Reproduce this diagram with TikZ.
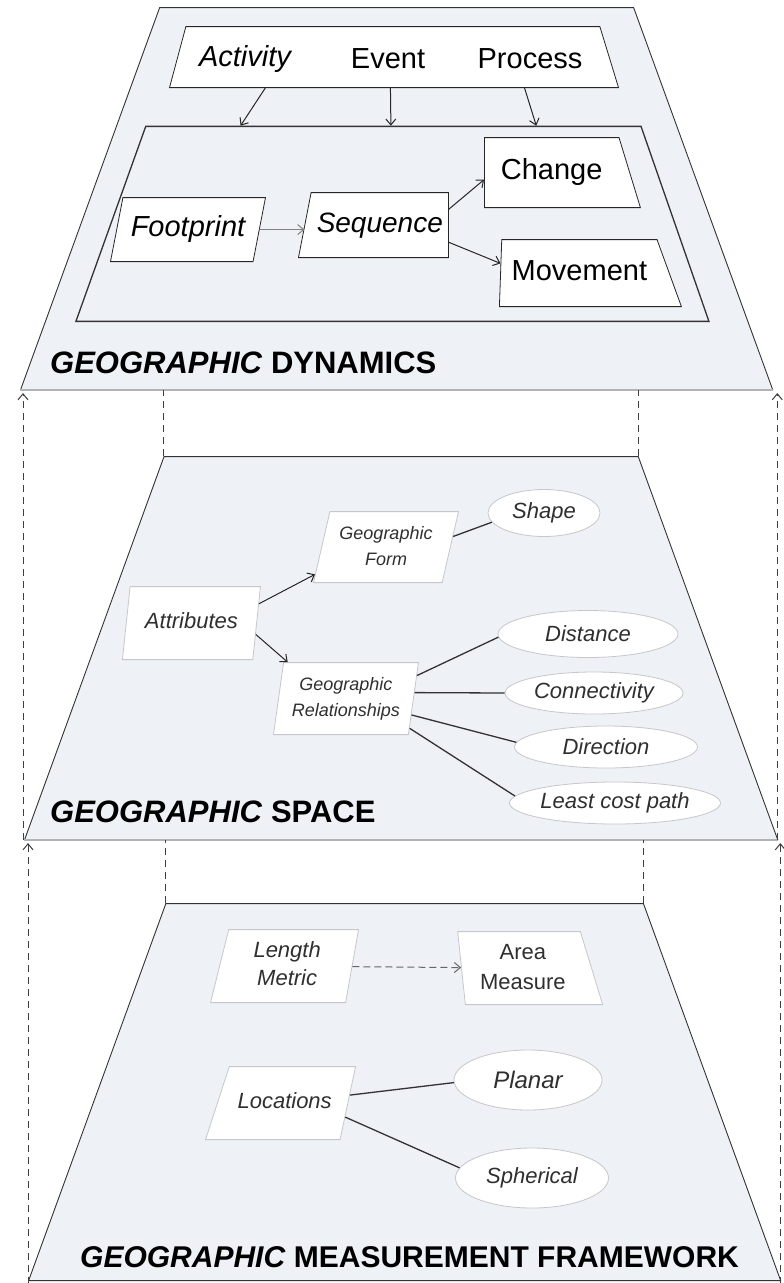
\documentclass[tikz,border=0pt]{standalone}
\usepackage{fontspec}
\setmainfont{Liberation Sans}
\usetikzlibrary{positioning}
\usetikzlibrary{shapes.geometric}
\usetikzlibrary{arrows.meta}
\usetikzlibrary{calc}
\definecolor{levelfill}{HTML}{EEF1F5}
\definecolor{boxline}{HTML}{C4C7CB}
\definecolor{textgray}{HTML}{2F2F2F}

\begin{document}
\begin{tikzpicture}[
    x=1pt, y=-1pt,
    level/.style={trapezium,trapezium left angle=70,trapezium right angle=70,trapezium stretches body=true,anchor=bottom left corner,draw=black!80,fill=levelfill,line width=0.9pt,inner xsep=2pt,text height=0pt,text depth=0pt},
    separator/.style={line width=2.6pt,draw=gray!60},
    guide/.style={draw=black!75,line width=1pt,dash pattern=on 7pt off 5pt},
    title/.style={anchor=west,inner sep=0pt,font=\fontsize{31}{33}\selectfont\bfseries},
    dynbox/.style={trapezium,trapezium stretches body=true,anchor=bottom left corner,draw=black!85,fill=white,line width=0.8pt,inner xsep=2pt,text height=21pt,text depth=7pt,font=\fontsize{29}{32}\selectfont},
    spacebox/.style={trapezium,trapezium stretches body=true,anchor=bottom left corner,draw=boxline,fill=white,line width=0.8pt,inner xsep=2pt,text=textgray,font=\fontsize{22}{28}\selectfont\itshape},
    oneline/.style={text height=16pt,text depth=5pt},
    attrib/.style={ellipse,draw=boxline,fill=white,line width=0.8pt,inner sep=0pt,text=textgray,font=\fontsize{22}{26}\selectfont\itshape},
    arrow/.style={->,>={Straight Barb[length=6pt,width=10pt]},line width=1pt,draw=black!85},
    link/.style={line width=1.3pt,draw=black!80}
]
\useasboundingbox (0,0) rectangle (784,1283);

% three levels
\node[level,minimum width=752pt,inner ysep=191pt] (dyn) at (20,390) {};
\node[level,minimum width=753pt,inner ysep=191.5pt] (space) at (24,840) {};
\node[level,minimum width=752pt,inner ysep=188.5pt] (meas) at (28,1281) {};

\draw[separator] (dyn.bottom left corner) -- (dyn.bottom right corner);
\draw[separator] (space.bottom left corner) -- (space.bottom right corner);

\draw[guide] (space.top left corner) -- (space.top left corner |- dyn.south);
\draw[guide] (space.top right corner) -- (space.top right corner |- dyn.south);
\draw[guide] (meas.top left corner) -- (meas.top left corner |- space.south);
\draw[guide] (meas.top right corner) -- (meas.top right corner |- space.south);
\draw[guide,-{Straight Barb[length=6pt,width=10pt]}] ([xshift=-1pt]space.bottom left corner) -- ([xshift=-1pt,yshift=-3pt]space.bottom left corner |- dyn.south);
\draw[guide,-{Straight Barb[length=6pt,width=10pt]}] ([xshift=-1pt]space.bottom right corner) -- ([xshift=-1pt,yshift=-3pt]space.bottom right corner |- dyn.south);
\draw[guide,-{Straight Barb[length=6pt,width=10pt]}] ([yshift=-3pt]meas.bottom left corner) -- ([yshift=-3pt]meas.bottom left corner |- space.south);
\draw[guide,-{Straight Barb[length=6pt,width=10pt]}] ([xshift=-1pt,yshift=-3pt]meas.bottom right corner) -- ([xshift=-1pt,yshift=-3pt]meas.bottom right corner |- space.south);

% geographic dynamics
\node[dynbox,trapezium left angle=75,trapezium right angle=73,minimum width=449pt,text height=0pt,text depth=0pt,inner ysep=30.5pt] (events) at (169,88) {};
\node[font=\fontsize{29}{32}\selectfont\itshape] (act) at (245,59) {Activity};
\node[font=\fontsize{29}{32}\selectfont] (evt) at (388,59) {Event};
\node[font=\fontsize{29}{32}\selectfont] (proc) at (530,59) {Process};
\node[level,trapezium left angle=70.3,trapezium right angle=70.8,minimum width=633pt,inner ysep=97.5pt,line width=1.3pt] (dyninner) at (75,322) {};

\node[dynbox,trapezium left angle=79,trapezium right angle=101,minimum width=155pt,inner ysep=18pt,font=\fontsize{29}{32}\selectfont\itshape] (foot) at (110,262) {Footprint};
\node[dynbox,trapezium left angle=79,trapezium right angle=90,minimum width=150pt,inner ysep=18.5pt,font=\fontsize{28}{32}\selectfont\itshape] (seq) at (298,258) {Sequence};
\node[dynbox,trapezium left angle=90,trapezium right angle=73,minimum width=156pt,inner ysep=21pt] (chg) at (484,208) {Change};
\node[dynbox,trapezium left angle=88,trapezium right angle=70,minimum width=182pt,inner ysep=19.5pt] (mov) at (499,307) {Movement};

\draw[arrow] ($(events.bottom left corner)!0.214!(events.bottom right corner)$) -- ($(dyninner.top left corner)!0.192!(dyninner.top right corner)$);
\draw[arrow] ($(events.bottom left corner)!0.492!(events.bottom right corner)$) -- ($(dyninner.top left corner)!0.495!(dyninner.top right corner)$);
\draw[arrow] ($(events.bottom left corner)!0.79!(events.bottom right corner)$) -- ($(dyninner.top left corner)!0.788!(dyninner.top right corner)$);
\draw[arrow,draw=gray] (foot.east) -- (foot.east -| seq.west);
\draw[arrow] (seq.13) -- (chg.186);
\draw[arrow] (seq.-14) -- (mov.173);

\node[title] (dyntitle) at (50,363) {\textit{GEOGRAPHIC} DYNAMICS};

% geographic space
\node[spacebox,oneline,trapezium left angle=84,trapezium right angle=96,minimum width=138pt,inner ysep=26pt] (attr) at (122,660) {Attributes};
\node[spacebox,trapezium left angle=77,trapezium right angle=103,minimum width=145pt,inner ysep=9.5pt,font=\fontsize{18}{26}\selectfont\itshape] (form) at (313,583) {\begin{tabular}{@{}c@{}}Geographic\\Form\end{tabular}};
\node[spacebox,trapezium left angle=82,trapezium right angle=98,minimum width=145pt,inner ysep=10pt,font=\fontsize{18}{26}\selectfont\itshape] (rel) at (273,735) {\begin{tabular}{@{}c@{}}Geographic\\Relationships\end{tabular}};
\node[attrib,minimum width=112pt,minimum height=47pt] (shape) at (544,513) {Shape};
\node[attrib,minimum width=180pt,minimum height=47pt] (dist) at (588,634) {Distance};
\node[attrib,minimum width=178pt,minimum height=42pt] (conn) at (594,693) {Connectivity};
\node[attrib,minimum width=183pt,minimum height=42pt] (dir) at (606,747) {Direction};
\node[attrib,minimum width=175pt,minimum height=42pt] (least) at (615,803) {Least cost path};

\draw[arrow] (attr.16) -- (form.201);
\draw[arrow] (attr.-10) -- (rel.148);
\draw[link] (form.9) -- (shape.190);
\draw[link] (rel.18) -- (dist.182);
\draw[link] (rel.5) -- (conn.180);
\draw[link] (rel.-14) -- (dir.177);
\draw[link] (rel.-25) -- (least.176);

\node[title] (spacetitle) at (50,812) {\textit{GEOGRAPHIC} SPACE};

% geographic measurement framework
\node[spacebox,trapezium left angle=76,trapezium right angle=100,minimum width=148pt,inner ysep=8.5pt] (len) at (210,1003) {\begin{tabular}{@{}c@{}}Length\\Metric\end{tabular}};
\node[spacebox,trapezium left angle=96,trapezium right angle=73,minimum width=145pt,inner ysep=6.5pt,font=\fontsize{22}{30}\selectfont] (area) at (465,1005) {\begin{tabular}{@{}c@{}}Area\\Measure\end{tabular}};
\node[spacebox,oneline,trapezium left angle=72,trapezium right angle=102,minimum width=150pt,inner ysep=26pt] (loc) at (205,1140) {Locations};
\node[attrib,minimum width=148pt,minimum height=60pt,font=\fontsize{24}{26}\selectfont\itshape] (planar) at (528,1080) {Planar};
\node[attrib,minimum width=153pt,minimum height=60pt] (spher) at (532,1178) {Spherical};

\draw[arrow,draw=gray!80!black,dash pattern=on 7pt off 4pt] (len) -- (area);
\draw[link] (loc.7) -- (planar.182);
\draw[link] (loc.-13) -- (spher.172);

\node[title,font=\fontsize{30}{32}\selectfont\bfseries] (meastitle) at (80,1257) {\textit{GEOGRAPHIC} MEASUREMENT FRAMEWORK};

\end{tikzpicture}
\end{document}
